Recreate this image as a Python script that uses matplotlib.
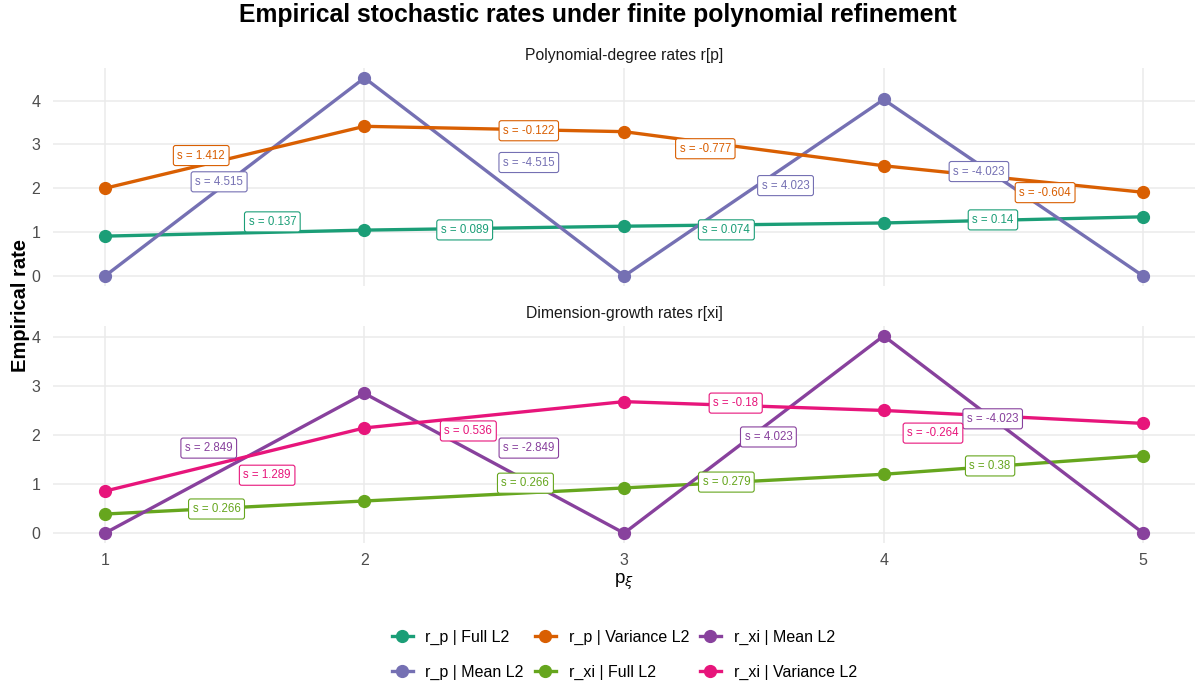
import numpy as np
import matplotlib
matplotlib.use('Agg')
import matplotlib.pyplot as plt
from matplotlib.lines import Line2D

plt.rcParams['font.family'] = ['Liberation Sans', 'DejaVu Sans']

p_deg = [1, 2, 3, 4, 5]

# r[p] panel
rp_full = [0.910, 1.047, 1.136, 1.210, 1.350]
rp_var = [2.000, 3.412, 3.290, 2.513, 1.909]
rp_mean = [0.0, 4.515, 0.0, 4.023, 0.0]

# r[xi] panel
rxi_full = [0.390, 0.656, 0.922, 1.201, 1.581]
rxi_var = [0.857, 2.146, 2.682, 2.502, 2.238]
rxi_mean = [0.0, 2.849, 0.0, 4.023, 0.0]

# slope labels between consecutive degrees
s_rp_full = [0.137, 0.089, 0.074, 0.14]
s_rp_var = [1.412, -0.122, -0.777, -0.604]
s_rp_mean = [4.515, -4.515, 4.023, -4.023]
s_rxi_full = [0.266, 0.266, 0.279, 0.38]
s_rxi_var = [1.289, 0.536, -0.18, -0.264]
s_rxi_mean = [2.849, -2.849, 4.023, -4.023]

# label nudges away from segment midpoints (dx, dy)
nudge_rp_full = [(0.145, 0.256), (-0.114, -0.04), (-0.106, -0.12), (-0.079, 0.0)]
nudge_rp_var = [(-0.129, 0.04), (0.133, -0.04), (-0.187, 0.0), (0.122, -0.31)]
nudge_rp_mean = [(-0.06, -0.11), (0.133, 0.33), (0.122, 0.05), (-0.133, 0.37)]
nudge_rxi_full = [(-0.07, -0.03), (0.12, 0.23), (-0.106, -0.02), (-0.09, -0.02)]
nudge_rxi_var = [(0.125, -0.32), (-0.1, -0.33), (-0.07, 0.06), (-0.31, -0.33)]
nudge_rxi_mean = [(-0.1, 0.31), (0.133, 0.31), (0.056, -0.05), (-0.08, 0.32)]

col = {
    'r_p | Full L2': '#1B9E77',
    'r_p | Mean L2': '#7570B3',
    'r_p | Variance L2': '#D95F02',
    'r_xi | Full L2': '#66A61E',
    'r_xi | Mean L2': '#88419D',
    'r_xi | Variance L2': '#E7157B',
}

panels = [
    ('Polynomial-degree rates r[p]', [
        ('r_p | Full L2', rp_full, s_rp_full, nudge_rp_full),
        ('r_p | Mean L2', rp_mean, s_rp_mean, nudge_rp_mean),
        ('r_p | Variance L2', rp_var, s_rp_var, nudge_rp_var),
    ]),
    ('Dimension-growth rates r[xi]', [
        ('r_xi | Full L2', rxi_full, s_rxi_full, nudge_rxi_full),
        ('r_xi | Mean L2', rxi_mean, s_rxi_mean, nudge_rxi_mean),
        ('r_xi | Variance L2', rxi_var, s_rxi_var, nudge_rxi_var),
    ]),
]

fig = plt.figure(figsize=(11.96, 6.84), dpi=100)
ax_top = fig.add_axes([0.0443, 0.5819, 0.955, 0.3187])
ax_bot = fig.add_axes([0.0443, 0.2061, 0.955, 0.3173])

for ax, (strip, series) in zip([ax_top, ax_bot], panels):
    x = np.array(p_deg, dtype=float)
    for name, y, slopes, nudges in series:
        c = col[name]
        ax.plot(x, y, color=c, lw=2.4, zorder=3, solid_capstyle='round')
        ax.plot(x, y, 'o', color=c, ms=8.5, zorder=4)
    for name, y, slopes, nudges in series:
        c = col[name]
        for i, (s, (dx, dy)) in enumerate(zip(slopes, nudges)):
            xm = (x[i] + x[i + 1]) / 2 + dx
            ym = (y[i] + y[i + 1]) / 2 + dy
            ax.text(xm, ym, f's = {s:g}', color=c, fontsize=8.3,
                    ha='center', va='center', zorder=6,
                    bbox=dict(boxstyle='round,pad=0.35,rounding_size=0.2',
                              fc='white', ec=c, lw=0.8))
    allv = np.concatenate([np.asarray(s[1]) for s in series])
    lo, hi = allv.min(), allv.max()
    pad = (hi - lo) * 0.05
    ax.set_ylim(lo - pad, hi + pad)
    ax.set_xlim(0.8, 5.2)
    ax.set_yticks([0, 1, 2, 3, 4])
    ax.set_xticks(p_deg)
    ax.grid(True, color='#EBEBEB', lw=1.1)
    ax.set_axisbelow(True)
    for sp in ax.spines.values():
        sp.set_visible(False)
    ax.tick_params(length=0, labelsize=11.5, labelcolor='#4D4D4D')
    ax.tick_params(axis='y', pad=9)
    ax.tick_params(axis='x', pad=7.5)
    ax.set_title(strip, fontsize=11.3, color='#1A1A1A', pad=6)

ax_top.tick_params(labelbottom=False)
ax_bot.set_xlabel(r'p$_{\xi}$', fontsize=13.5, color='black', labelpad=2)

fig.text(0.5, 0.978, 'Empirical stochastic rates under finite polynomial refinement',
         ha='center', va='center', fontsize=17.8, fontweight='bold')
fig.text(0.017, 0.553, 'Empirical rate', rotation=90, ha='center', va='center',
         fontsize=14.5, fontweight='bold')

handles = [Line2D([0], [0], color=c, lw=2.4, marker='o', ms=8.5) for c in col.values()]
fig.legend(handles, list(col.keys()), ncol=3, loc='center',
           bbox_to_anchor=(0.522, 0.043), frameon=False, fontsize=11.5,
           handlelength=1.3, handletextpad=0.8, columnspacing=0.7,
           labelspacing=1.25)

fig.savefig('out.png', dpi=100)
